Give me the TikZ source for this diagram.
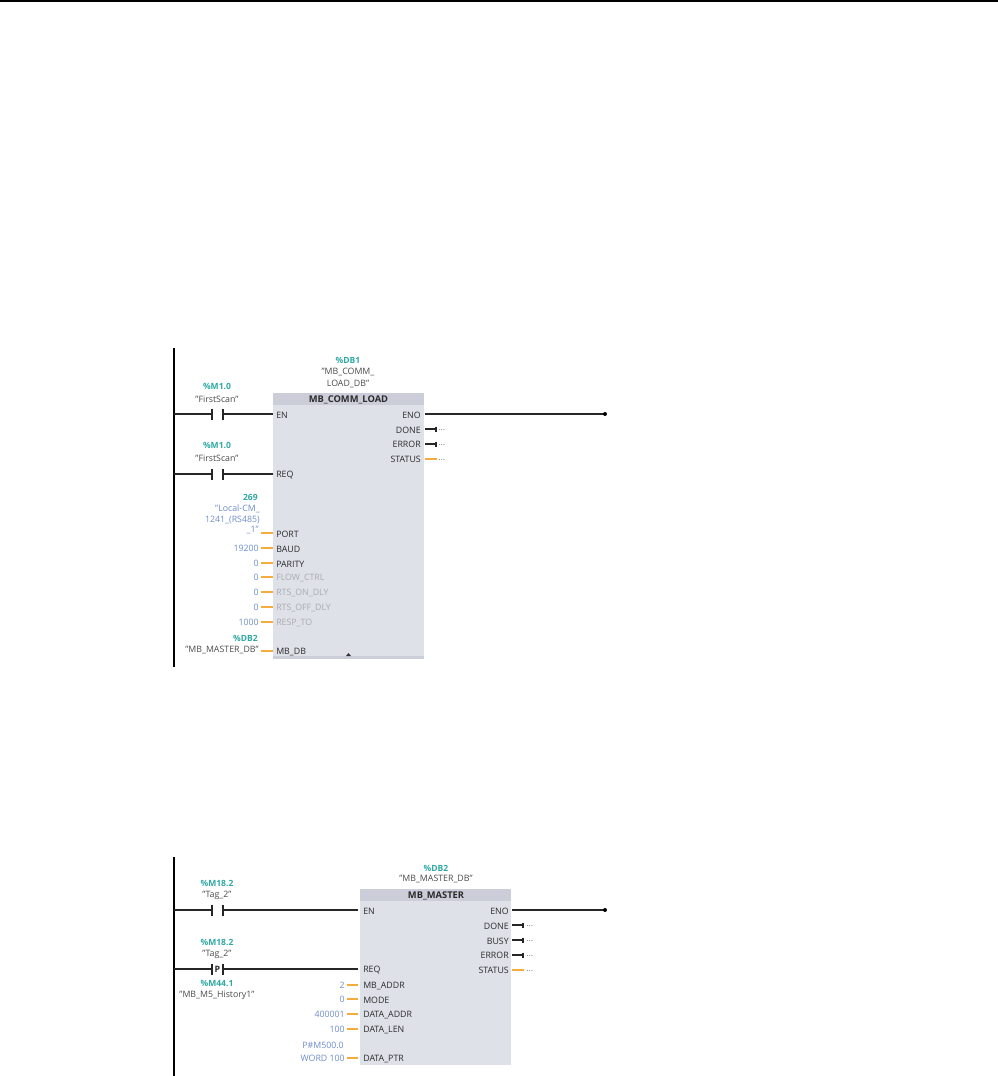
\documentclass[tikz,border=0pt]{standalone}
\usepackage{fontspec}
\setmainfont{Open Sans}
\definecolor{tealtag}{HTML}{2FA9A3}
\definecolor{bluev}{HTML}{6E8CCB}
\definecolor{greypin}{HTML}{A9ABB0}
\definecolor{orangew}{HTML}{F4AC3C}
\definecolor{boxfill}{HTML}{DFE1E9}
\definecolor{bandfill}{HTML}{CBCDD8}
\definecolor{txt}{HTML}{2A2A2A}
\definecolor{tagtxt}{HTML}{4A4A4A}
\newcommand{\fs}{\fontsize{6.6}{7.5}\selectfont}
\newcommand{\ft}{\fontsize{6.4}{7.5}\selectfont}
\tikzset{
  x=0.75pt,y=-0.75pt,
  rail/.style={line width=1pt,black},
  wire/.style={line width=0.95pt,black!85},
  owire/.style={line width=0.9pt,orangew},
  tag/.style={inner sep=0pt,font=\ft,text=tealtag},
  sym/.style={inner sep=0pt,font=\fs,text=tagtxt},
  val/.style={inner sep=0pt,font=\fs,text=bluev,anchor=east},
  pin/.style={inner sep=0pt,font=\fs,text=txt,anchor=west},
  pinr/.style={inner sep=0pt,font=\fs,text=txt,anchor=east},
  pingrey/.style={inner sep=0pt,font=\fs,text=greypin,anchor=west},
  dots/.style={inner sep=0pt,font=\fs,text=black!50,anchor=west},
  block/.style={fill=boxfill,draw=none,anchor=north west,inner sep=0pt},
  band/.style={fill=bandfill,draw=none,anchor=north west,inner sep=0pt,font=\fs,text=txt},
  titletext/.style={inner sep=0pt,font=\fontsize{7}{8}\selectfont,text=txt},
}
\newcommand{\cbars}[2]{\draw[wire] (#1)++(0,-5.5) -- ++(0,11); \draw[wire] (#2)++(0,-5.5) -- ++(0,11);}
% \lpin{name}{y}{label}{value}{stub x from}{stub x to}{label x}{value x}{style}
\newcommand{\lpin}[9]{%
  \node[#9] (#1) at (#7,#2+1) {#3};
  \node[val] (#1v) at (#8,#2) {#4};
  \coordinate (#1a) at (#8+2,#2);
  \coordinate (#1b) at (#6,#2);
  \draw[owire] (#1a) -- (#1b);
}
\begin{document}
\begin{tikzpicture}
\useasboundingbox (0,0) rectangle (998,1076);
\coordinate (tl) at (0,1); \coordinate (tr) at (998,1);
\draw[line width=1pt,black] (tl) -- (tr);

%% ---- Network 1 ----
\coordinate (r1t) at (174,348); \coordinate (r1b) at (174,667);
\draw[rail] (r1t) -- (r1b);
\node[block,minimum width=113.25pt,minimum height=199.5pt] (b1) at (273,393) {};
\node[band,minimum width=113.25pt,minimum height=9pt] (b1t) at (273,393) {};
\node[titletext] (b1n) at (348.5,400) {\textbf{MB\_COMM\_LOAD}};
\fill[bandfill] (273,656) rectangle (424,659);
\fill[black!80] (346,656) -- (348.5,653) -- (351,656) -- cycle;

\node[tag] (db1a) at (348,360) {\textbf{\%DB1}};
\node[sym] (db1b) at (348,372) {"MB\_COMM\_};
\node[sym] (db1c) at (348,384) {LOAD\_DB"};

\node[tag] (m1a) at (217,386) {\textbf{\%M1.0}};
\node[sym] (m1b) at (217,399) {"FirstScan"};
\node[tag] (m2a) at (217,445) {\textbf{\%M1.0}};
\node[sym] (m2b) at (217,458) {"FirstScan"};

\coordinate (r1e) at (174,414); \coordinate (c1l) at (212,414); \coordinate (c1r) at (223,414); \coordinate (b1e) at (273,414);
\draw[wire] (r1e) -- (c1l) (c1r) -- (b1e); \cbars{c1l}{c1r}
\node[pin] (p1en) at (276,415) {EN};
\coordinate (r1q) at (174,474); \coordinate (c2l) at (212,474); \coordinate (c2r) at (223,474); \coordinate (b1q) at (273,474);
\draw[wire] (r1q) -- (c2l) (c2r) -- (b1q); \cbars{c2l}{c2r}
\node[pin] (p1req) at (276,475) {REQ};

\node[tag,anchor=east] (v269) at (258,497) {\textbf{269}};
\node[val] (vl1) at (260,509) {"Local-CM\_};
\node[val] (vl2) at (260,519.5) {1241\_(RS485)};
\lpin{port}{533}{PORT}{}{}{273}{276}{259}{pin}
\node[val] (vl3) at (259,530) {\_1"};
\lpin{baud}{548}{BAUD}{19200}{}{273}{276}{259}{pin}
\lpin{par}{563}{PARITY}{0}{}{273}{276}{259}{pin}
\lpin{flow}{577}{FLOW\_CTRL}{0}{}{273}{276}{259}{pingrey}
\lpin{rtsa}{592}{RTS\_ON\_DLY}{0}{}{273}{276}{259}{pingrey}
\lpin{rtsb}{607}{RTS\_OFF\_DLY}{0}{}{273}{276}{259}{pingrey}
\lpin{resp}{622}{RESP\_TO}{1000}{}{273}{276}{259}{pingrey}
\node[tag,anchor=east] (db2a) at (258,638) {\textbf{\%DB2}};
\node[sym,anchor=east] (db2b) at (259,650) {"MB\_MASTER\_DB"};
\node[pin] (mbdb) at (276,652) {MB\_DB};
\coordinate (mbdba) at (261,651); \coordinate (mbdbb) at (273,651);
\draw[owire] (mbdba) -- (mbdbb);

\node[pinr] (eno1) at (421,415) {ENO};
\node[pinr] (done1) at (421,430) {DONE};
\node[pinr] (err1) at (421,444.5) {ERROR};
\node[pinr] (st1) at (421,459.5) {STATUS};
\coordinate (eno1a) at (425,414); \coordinate (eno1b) at (605,414);
\draw[wire,line width=1.1pt] (eno1a) -- (eno1b); \fill[black] (eno1b) circle (2);
\coordinate (done1a) at (425,429); \coordinate (done1b) at (436,429);
\draw[wire] (done1a) -- (done1b); \draw[wire] (done1b)++(0,-2.5) -- ++(0,5);
\coordinate (err1a) at (425,444); \coordinate (err1b) at (436,444);
\draw[wire] (err1a) -- (err1b); \draw[wire] (err1b)++(0,-2.5) -- ++(0,5);
\coordinate (st1a) at (425,459); \coordinate (st1b) at (437,459);
\draw[owire] (st1a) -- (st1b);
\node[dots] (d1) at (438,430) {...};
\node[dots] (d2) at (438,445) {...};
\node[dots] (d3) at (438,460) {...};

%% ---- Network 2 ----
\coordinate (r2t) at (174,857); \coordinate (r2b) at (174,1076);
\draw[rail] (r2t) -- (r2b);
\node[block,minimum width=113.25pt,minimum height=132pt] (b2) at (360,889) {};
\node[band,minimum width=113.25pt,minimum height=9pt] (b2t) at (360,889) {};
\node[titletext] (b2n) at (436,896) {\textbf{MB\_MASTER}};

\node[tag] (db3a) at (436,868) {\textbf{\%DB2}};
\node[sym] (db3b) at (436,879) {"MB\_MASTER\_DB"};

\node[tag] (m3a) at (217,883) {\textbf{\%M18.2}};
\node[sym] (m3b) at (217,895) {"Tag\_2"};
\node[tag] (m4a) at (217,942) {\textbf{\%M18.2}};
\node[sym] (m4b) at (217,954) {"Tag\_2"};
\node[tag] (m5a) at (217,983) {\textbf{\%M44.1}};
\node[sym] (m5b) at (217,995) {"MB\_M5\_History1"};

\coordinate (r2e) at (174,910); \coordinate (c3l) at (212,910); \coordinate (c3r) at (223,910); \coordinate (b2e) at (358,910);
\draw[wire] (r2e) -- (c3l) (c3r) -- (b2e); \cbars{c3l}{c3r}
\node[pin] (p2en) at (363,911.5) {EN};
\coordinate (r2q) at (174,969); \coordinate (c4l) at (212,969); \coordinate (c4r) at (223,969); \coordinate (b2q) at (358,969);
\draw[wire] (r2q) -- (c4l) (c4r) -- (b2q); \cbars{c4l}{c4r}
\node[inner sep=0pt,font=\fs,text=txt] (pp) at (217.5,969) {\textbf{P}};
\node[pin] (p2req) at (363,970) {REQ};

\lpin{addr}{985}{MB\_ADDR}{2}{}{358}{363}{345}{pin}
\lpin{mode}{999}{MODE}{0}{}{358}{363}{345}{pin}
\lpin{dadr}{1014}{DATA\_ADDR}{400001}{}{358}{363}{345}{pin}
\lpin{dlen}{1029}{DATA\_LEN}{100}{}{358}{363}{345}{pin}
\node[val] (ptra) at (344,1045) {P\#M500.0};
\lpin{dptr}{1058}{DATA\_PTR}{WORD 100}{}{358}{363}{345}{pin}

\node[pinr] (eno2) at (509,911) {ENO};
\node[pinr] (done2) at (509,926) {DONE};
\node[pinr] (busy2) at (509,941) {BUSY};
\node[pinr] (err2) at (509,955.5) {ERROR};
\node[pinr] (st2) at (509,970.5) {STATUS};
\coordinate (eno2a) at (512,910); \coordinate (eno2b) at (605,910);
\draw[wire,line width=1.1pt] (eno2a) -- (eno2b); \fill[black] (eno2b) circle (2);
\coordinate (done2a) at (512,925); \coordinate (done2b) at (523,925);
\draw[wire] (done2a) -- (done2b); \draw[wire] (done2b)++(0,-2.5) -- ++(0,5);
\coordinate (busy2a) at (512,940); \coordinate (busy2b) at (523,940);
\draw[wire] (busy2a) -- (busy2b); \draw[wire] (busy2b)++(0,-2.5) -- ++(0,5);
\coordinate (err2a) at (512,955); \coordinate (err2b) at (523,955);
\draw[wire] (err2a) -- (err2b); \draw[wire] (err2b)++(0,-2.5) -- ++(0,5);
\coordinate (st2a) at (512,970); \coordinate (st2b) at (524,970);
\draw[owire] (st2a) -- (st2b);
\node[dots] (d4) at (526,926) {...};
\node[dots] (d5) at (526,941) {...};
\node[dots] (d6) at (526,956) {...};
\node[dots] (d7) at (526,971) {...};
\end{tikzpicture}
\end{document}
